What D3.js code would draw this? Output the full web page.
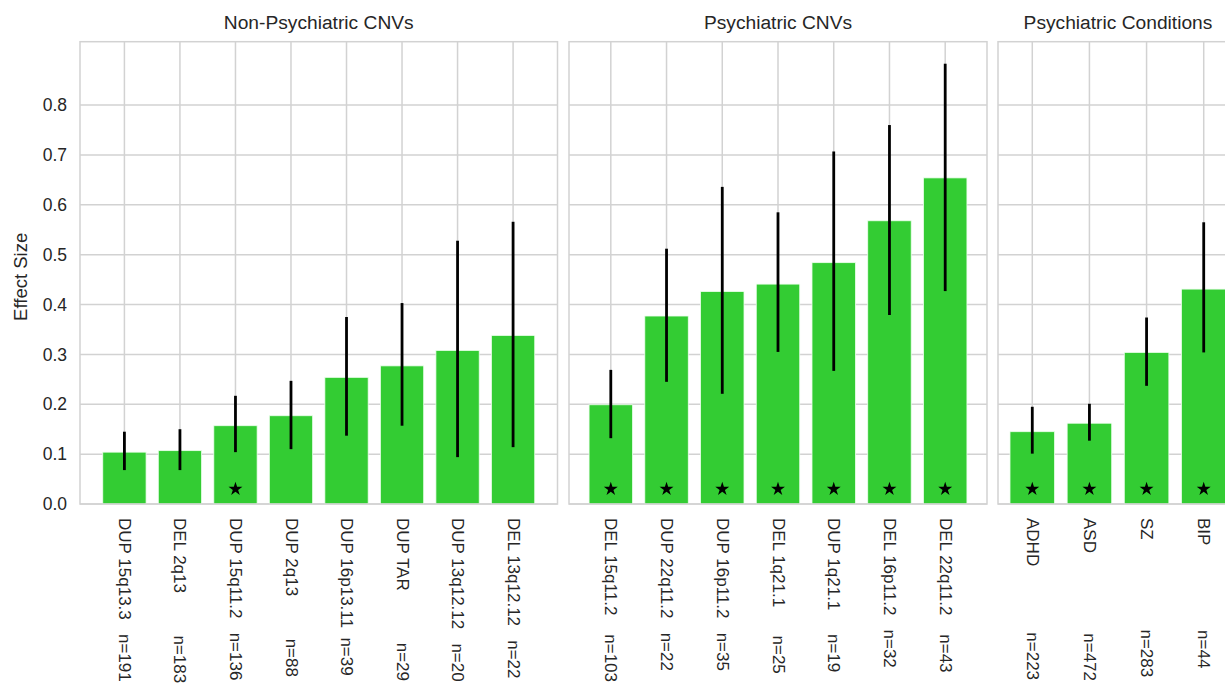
<!DOCTYPE html>
<html>
<head>
<meta charset="utf-8">
<script src="https://cdn.jsdelivr.net/npm/d3@7"></script>
<style>
  html, body { margin: 0; padding: 0; background: #ffffff; }
  svg { display: block; font-family: "Liberation Sans", Arial, sans-serif; }
  .xlab text { white-space: pre; }
</style>
</head>
<body>
<svg id="chart" width="1225" height="684"></svg>
<script>
// ---- data -------------------------------------------------------------
const panelTitles = ["Non-Psychiatric CNVs", "Psychiatric CNVs", "Psychiatric Conditions"];

const nonPsyLabels = [
  "DUP 15q13.3   n=191",
  "DEL 2q13         n=183",
  "DUP 15q11.2   n=136",
  "DUP 2q13         n=88",
  "DUP 16p13.11  n=39",
  "DUP TAR           n=29",
  "DUP 13q12.12   n=20",
  "DEL 13q12.12   n=22"
];
const nonPsyEffect = [0.104, 0.107, 0.157, 0.177, 0.254, 0.277, 0.308, 0.338];
const nonPsyLow    = [0.068, 0.068, 0.104, 0.110, 0.137, 0.157, 0.094, 0.114];
const nonPsyHigh   = [0.145, 0.150, 0.217, 0.247, 0.375, 0.403, 0.528, 0.566];
const nonPsySig    = [false, false, true, false, false, false, false, false];

const psyCnvLabels = [
  "DEL 15q11.2    n=103",
  "DUP 22q11.2   n=22",
  "DUP 16p11.2   n=35",
  "DEL 1q21.1      n=25",
  "DUP 1q21.1     n=19",
  "DEL 16p11.2   n=32",
  "DEL 22q11.2    n=43"
];
const psyCnvEffect = [0.199, 0.377, 0.426, 0.441, 0.484, 0.568, 0.654];
const psyCnvLow    = [0.132, 0.245, 0.221, 0.305, 0.267, 0.379, 0.427];
const psyCnvHigh   = [0.269, 0.512, 0.636, 0.585, 0.707, 0.760, 0.883];
const psyCnvSig    = [true, true, true, true, true, true, true];

const condLabels = [
  "ADHD              n=223",
  "ASD                 n=472",
  "SZ                   n=283",
  "BIP                  n=44"
];
const condEffect = [0.145, 0.162, 0.304, 0.431];
const condLow    = [0.101, 0.127, 0.237, 0.304];
const condHigh   = [0.195, 0.201, 0.374, 0.565];
const condSig    = [true, true, true, true];

const yTicks = [0.0, 0.1, 0.2, 0.3, 0.4, 0.5, 0.6, 0.7, 0.8];
const starValue = 0.03;

// ---- layout -----------------------------------------------------------
const panels = [
  { title: panelTitles[0], labels: nonPsyLabels, eff: nonPsyEffect, lo: nonPsyLow, hi: nonPsyHigh, sig: nonPsySig, x0: 80,  x1: 557.5, pad: 0.8 },
  { title: panelTitles[1], labels: psyCnvLabels, eff: psyCnvEffect, lo: psyCnvLow, hi: psyCnvHigh, sig: psyCnvSig, x0: 569, x1: 987,   pad: 0.75 },
  { title: panelTitles[2], labels: condLabels,   eff: condEffect,   lo: condLow,   hi: condHigh,   sig: condSig,   x0: 998, x1: 1238,  pad: 0.6 }
];

const plotTop = 41.7, plotBottom = 504;
const gridColor = "#d2d2d2";
const textColor = "#262626";
const barColor = "#33cc33";
const barFrac = 0.78;

const svg = d3.select("#chart");

const yMax = d3.max(panels.flatMap(p => p.hi)) * 1.05;
const y = d3.scaleLinear().domain([0, yMax]).range([plotBottom, plotTop]);

panels.forEach((p, pi) => {
  const n = p.labels.length;
  const idx = d3.range(n);
  const x = d3.scaleLinear().domain([-p.pad, n - 1 + p.pad]).range([p.x0, p.x1]);
  const step = x(1) - x(0);
  const g = svg.append("g");

  // horizontal grid
  g.append("g").selectAll("line").data(yTicks).join("line")
    .attr("x1", p.x0).attr("x2", p.x1)
    .attr("y1", d => y(d)).attr("y2", d => y(d))
    .attr("stroke", gridColor).attr("stroke-width", 1.5);

  // vertical grid at category centres
  g.append("g").selectAll("line").data(idx).join("line")
    .attr("x1", d => x(d)).attr("x2", d => x(d))
    .attr("y1", plotTop).attr("y2", plotBottom)
    .attr("stroke", gridColor).attr("stroke-width", 1.5);

  // bars
  g.append("g").selectAll("rect").data(idx).join("rect")
    .attr("x", d => x(d) - step * barFrac / 2)
    .attr("width", step * barFrac)
    .attr("y", d => y(p.eff[d]))
    .attr("height", d => y(0) - y(p.eff[d]))
    .attr("fill", barColor)
    .attr("stroke", "#ecffec").attr("stroke-width", 0.8);

  // error bars
  g.append("g").selectAll("line").data(idx).join("line")
    .attr("x1", d => x(d)).attr("x2", d => x(d))
    .attr("y1", d => y(p.lo[d])).attr("y2", d => y(p.hi[d]))
    .attr("stroke", "#000").attr("stroke-width", 2.8);

  // significance stars
  const star = d3.symbol().type(d3.symbolStar).size(60);
  g.append("g").selectAll("path").data(idx.filter(d => p.sig[d])).join("path")
    .attr("d", star)
    .attr("transform", d => `translate(${x(d)},${y(starValue)})`)
    .attr("fill", "#000");

  // frame
  g.append("rect")
    .attr("x", p.x0).attr("y", plotTop)
    .attr("width", p.x1 - p.x0).attr("height", plotBottom - plotTop)
    .attr("fill", "none").attr("stroke", gridColor).attr("stroke-width", 1.5);

  // x tick labels (rotated)
  const xAxis = d3.axisBottom(x).tickValues(idx).tickSize(0)
    .tickFormat(d => p.labels[d]);
  const ax = svg.append("g").attr("class", "xlab")
    .attr("transform", `translate(0,${plotBottom})`).call(xAxis);
  ax.select(".domain").remove();
  ax.selectAll("text")
    .attr("transform", "rotate(90)")
    .attr("x", 14).attr("y", 0).attr("dy", "0.35em")
    .style("text-anchor", "start")
    .style("font-size", "17px")
    .style("font-family", "\"Liberation Sans\", Arial, sans-serif")
    .attr("fill", textColor);

  // panel title
  svg.append("text")
    .attr("x", (p.x0 + p.x1) / 2).attr("y", 28.5)
    .attr("text-anchor", "middle")
    .style("font-size", "19.2px")
    .attr("fill", textColor)
    .text(p.title);

  // y axis on first panel only
  if (pi === 0) {
    const yAxis = d3.axisLeft(y).tickValues(yTicks).tickSize(0).tickPadding(13)
      .tickFormat(d3.format(".1f"));
    const ay = svg.append("g").attr("transform", `translate(${p.x0},0)`).call(yAxis);
    ay.select(".domain").remove();
    ay.selectAll("text")
      .style("font-size", "17.5px")
      .style("font-family", "\"Liberation Sans\", Arial, sans-serif")
      .attr("fill", textColor);
  }
});

// y axis title
svg.append("text")
  .attr("transform", `translate(21,${(plotTop + plotBottom) / 2 + 4}) rotate(-90)`)
  .attr("text-anchor", "middle")
  .attr("dy", "0.35em")
  .style("font-size", "18.5px")
  .attr("fill", textColor)
  .text("Effect Size");
</script>
</body>
</html>
